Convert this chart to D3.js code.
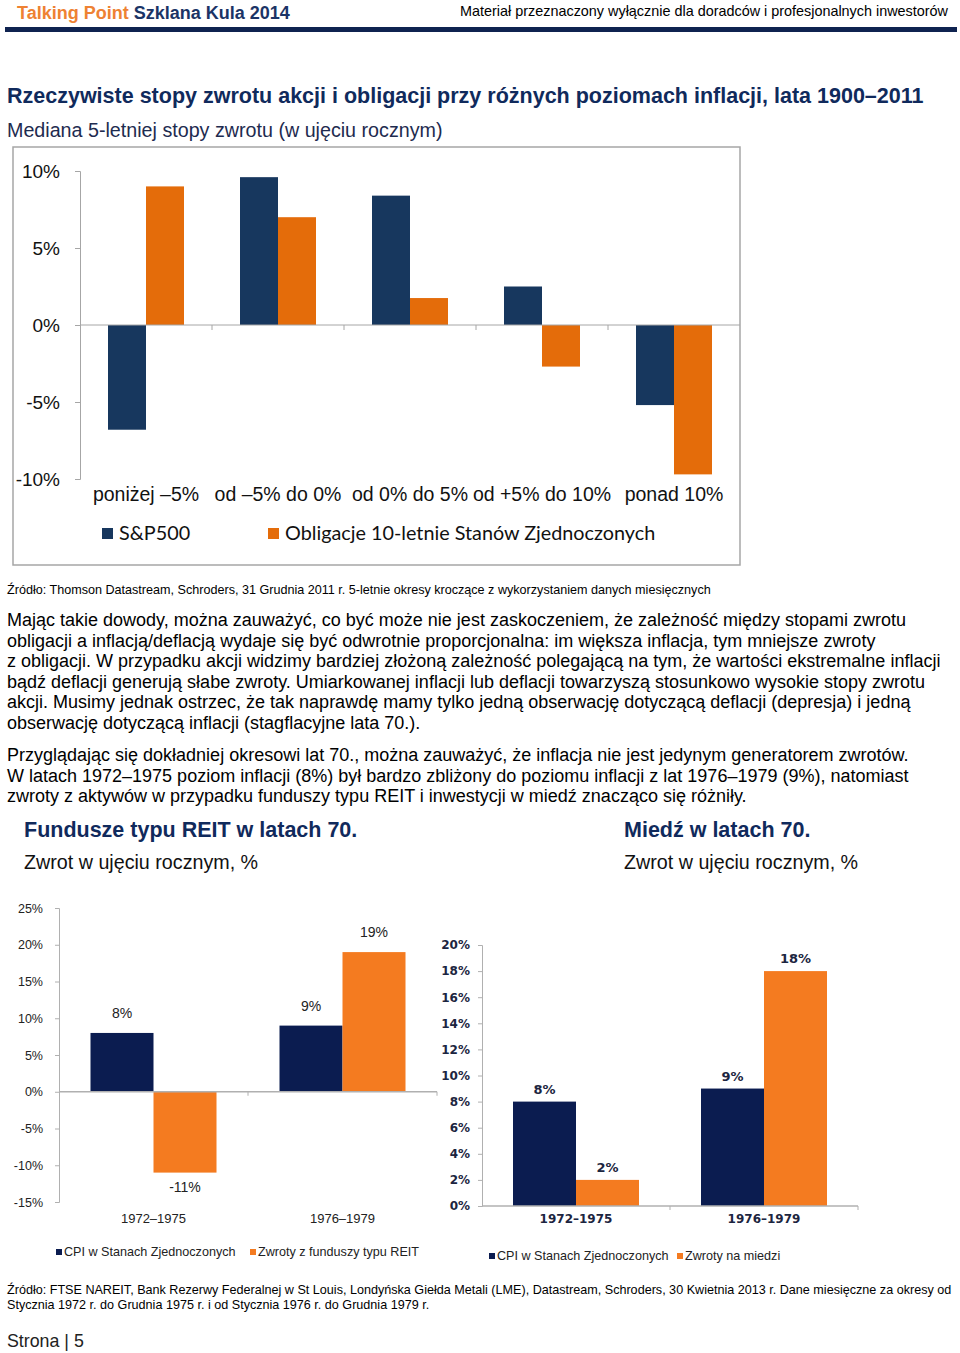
<!DOCTYPE html>
<html><head><meta charset="utf-8">
<script src="https://cdn.jsdelivr.net/npm/d3@7"></script>
<style>body{margin:0;background:#fff}svg{display:block}text{font-family:"Liberation Sans",Arial,sans-serif}</style>
</head><body>
<script>
// ---- data ----
const topCategories = ["poniżej –5%", "od –5% do 0%", "od 0% do 5%", "od +5% do 10%", "ponad 10%"];
const topSeries = ["S&P500", "Obligacje 10-letnie Stanów Zjednoczonych"];
const spValues = [-6.8, 9.6, 8.4, 2.5, -5.2];
const bondValues = [9.0, 7.0, 1.75, -2.7, -9.7];
const topTicks = [-10, -5, 0, 5, 10];

const periods = ["1972–1975", "1976–1979"];
const reitSeries = ["CPI w Stanach Zjednoczonych", "Zwroty z funduszy typu REIT"];
const reitCpi = [8, 9];
const reitReturns = [-11, 19];
const reitTicks = [-15, -10, -5, 0, 5, 10, 15, 20, 25];

const copperSeries = ["CPI w Stanach Zjednoczonych", "Zwroty na miedzi"];
const copperCpi = [8, 9];
const copperReturns = [2, 18];
const copperTicks = [0, 2, 4, 6, 8, 10, 12, 14, 16, 18, 20];

const para1 = [
 "Mając takie dowody, można zauważyć, co być może nie jest zaskoczeniem, że zależność między stopami zwrotu",
 "obligacji a inflacją/deflacją wydaje się być odwrotnie proporcjonalna: im większa inflacja, tym mniejsze zwroty",
 "z obligacji. W przypadku akcji widzimy bardziej złożoną zależność polegającą na tym, że wartości ekstremalne inflacji",
 "bądź deflacji generują słabe zwroty. Umiarkowanej inflacji lub deflacji towarzyszą stosunkowo wysokie stopy zwrotu",
 "akcji. Musimy jednak ostrzec, że tak naprawdę mamy tylko jedną obserwację dotyczącą deflacji (depresja) i jedną",
 "obserwację dotyczącą inflacji (stagflacyjne lata 70.)."
];
const para2 = [
 "Przyglądając się dokładniej okresowi lat 70., można zauważyć, że inflacja nie jest jedynym generatorem zwrotów.",
 "W latach 1972–1975 poziom inflacji (8%) był bardzo zbliżony do poziomu inflacji z lat 1976–1979 (9%), natomiast",
 "zwroty z aktywów w przypadku funduszy typu REIT i inwestycji w miedź znacząco się różniły."
];

// ---- page ----
const W = 960, H = 1353;
const svg = d3.select("body").append("svg").attr("width", W).attr("height", H);
const NAVY_T = "#17375e", ORANGE_T = "#e46c0a";
const NAVY_B = "#0b1c50", ORANGE_B = "#f47b20";
const TITLE = "#102a5c";

function txt(x, y, s, o = {}) {
  const t = svg.append("text").attr("x", x).attr("y", y).text(s)
    .attr("font-size", o.size || 16).attr("fill", o.fill || "#000")
    .attr("text-anchor", o.anchor || "start");
  if (o.weight) t.attr("font-weight", o.weight);
  if (o.family) t.style("font-family", o.family);
  return t;
}

// header
const hdr = svg.append("text").attr("x", 17).attr("y", 19).attr("font-size", 18).attr("font-weight", "bold")
  .style("font-family", '"Liberation Sans Narrow","Liberation Sans",Arial,sans-serif');
hdr.append("tspan").attr("fill", "#ee8233").text("Talking Point ");
hdr.append("tspan").attr("fill", "#1b3466").text("Szklana Kula 2014");
txt(948, 16, "Materiał przeznaczony wyłącznie dla doradców i profesjonalnych inwestorów",
  {size: 14.4, anchor: "end", family: '"Liberation Sans Narrow","Liberation Sans",Arial,sans-serif'});
svg.append("rect").attr("x", 5).attr("y", 27).attr("width", 952).attr("height", 5).attr("fill", "#0f2350");

// titles
txt(7, 103, "Rzeczywiste stopy zwrotu akcji i obligacji przy różnych poziomach inflacji, lata 1900–2011",
  {size: 21.5, weight: "bold", fill: TITLE});
txt(7, 137, "Mediana 5-letniej stopy zwrotu (w ujęciu rocznym)", {size: 19.7, fill: "#1e2b4f"});

// ---- top chart ----
svg.append("rect").attr("x", 13).attr("y", 147).attr("width", 727).attr("height", 418)
  .attr("fill", "none").attr("stroke", "#a6a6a6").attr("stroke-width", 1.5);

const yT = d3.scaleLinear().domain([-10, 10]).range([479, 171]);
const xT = d3.scaleBand().domain(topCategories).range([80, 740]);
const xT1 = d3.scaleBand().domain(topSeries).range([28, 104]);

const gTop = svg.append("g");
const axT = gTop.append("g").attr("transform", "translate(80,0)")
  .call(d3.axisLeft(yT).tickValues(topTicks).tickSize(5).tickPadding(15).tickFormat(d => d + "%"));
axT.select(".domain").attr("stroke", "#a6a6a6");
axT.selectAll(".tick line").attr("stroke", "#a6a6a6");
axT.selectAll(".tick text").attr("font-size", 19).attr("fill", "#111").style("font-family", '"Liberation Sans",Arial,sans-serif');

const topData = topCategories.map((c, i) => ({c, vals: [spValues[i], bondValues[i]]}));
const colorsT = [NAVY_T, ORANGE_T];
gTop.selectAll("g.cat").data(topData).join("g").attr("class", "cat")
  .attr("transform", d => `translate(${xT(d.c)},0)`)
  .selectAll("rect").data(d => d.vals.map((v, j) => ({v, s: topSeries[j], j}))).join("rect")
  .attr("x", d => xT1(d.s)).attr("width", xT1.bandwidth())
  .attr("y", d => yT(Math.max(0, d.v))).attr("height", d => Math.abs(yT(d.v) - yT(0)))
  .attr("fill", d => colorsT[d.j]);

// zero line + category ticks
gTop.append("line").attr("x1", 80).attr("x2", 740).attr("y1", yT(0)).attr("y2", yT(0)).attr("stroke", "#a6a6a6");
const bounds = topCategories.map(c => xT(c) + xT.bandwidth()).slice(0, -1);
gTop.selectAll("line.ct").data(bounds).join("line").attr("class", "ct")
  .attr("x1", d => d).attr("x2", d => d).attr("y1", yT(0)).attr("y2", yT(0) + 5).attr("stroke", "#a6a6a6");

gTop.selectAll("text.cl").data(topCategories).join("text").attr("class", "cl")
  .attr("x", d => xT(d) + xT.bandwidth() / 2).attr("y", 501).attr("text-anchor", "middle")
  .attr("font-size", 19.5).attr("fill", "#111").text(d => d);

// top legend
const legT = [{x: 102, s: topSeries[0], c: NAVY_T}, {x: 268, s: topSeries[1], c: ORANGE_T}];
legT.forEach(l => {
  svg.append("rect").attr("x", l.x).attr("y", 528).attr("width", 11).attr("height", 11).attr("fill", l.c);
  txt(l.x + 17, 540, l.s, {size: 19.8, fill: "#111", family: 'Lato,"Open Sans",sans-serif'});
});

// source + paragraphs
txt(7, 594, "Źródło: Thomson Datastream, Schroders, 31 Grudnia 2011 r. 5-letnie okresy kroczące z wykorzystaniem danych miesięcznych", {size: 12.6});
para1.forEach((l, i) => txt(7, 626 + i * 20.6, l, {size: 18}));
para2.forEach((l, i) => txt(7, 761 + i * 20.6, l, {size: 18}));

// sub titles
txt(24, 837, "Fundusze typu REIT w latach 70.", {size: 21.5, weight: "bold", fill: TITLE});
txt(24, 869, "Zwrot w ujęciu rocznym, %", {size: 19.7, fill: "#111"});
txt(624, 837, "Miedź w latach 70.", {size: 21.5, weight: "bold", fill: TITLE});
txt(624, 869, "Zwrot w ujęciu rocznym, %", {size: 19.7, fill: "#111"});

// ---- grouped bar helper for bottom charts ----
function bottomChart(cfg) {
  const g = svg.append("g");
  const y = d3.scaleLinear().domain(cfg.domain).range(cfg.yRange);
  const x = d3.scaleBand().domain(periods).range(cfg.xRange);
  const off = (x.bandwidth() - 126) / 2;
  const x1 = d3.scaleBand().domain([0, 1]).range([off, off + 126]);
  const ax = g.append("g").attr("transform", `translate(${cfg.xRange[0]},0)`)
    .call(d3.axisLeft(y).tickValues(cfg.ticks).tickSize(4).tickPadding(cfg.pad).tickFormat(d => d + "%"));
  ax.select(".domain").attr("stroke", "#b0b0b0");
  ax.selectAll(".tick line").attr("stroke", "#b0b0b0");
  ax.selectAll(".tick text").attr("font-size", cfg.tickSize).attr("fill", cfg.tickFill)
    .attr("font-weight", cfg.bold ? "bold" : null).style("font-family", cfg.family);
  const data = periods.map((p, i) => ({p, vals: [cfg.a[i], cfg.b[i]]}));
  const cols = [NAVY_B, ORANGE_B];
  const groups = g.selectAll("g.grp").data(data).join("g").attr("class", "grp")
    .attr("transform", d => `translate(${x(d.p)},0)`);
  groups.selectAll("rect").data(d => d.vals.map((v, j) => ({v, j}))).join("rect")
    .attr("x", d => x1(d.j)).attr("width", x1.bandwidth())
    .attr("y", d => y(Math.max(0, d.v))).attr("height", d => Math.abs(y(d.v) - y(0)))
    .attr("fill", d => cols[d.j]);
  groups.selectAll("text").data(d => d.vals.map((v, j) => ({v, j}))).join("text")
    .attr("x", d => x1(d.j) + x1.bandwidth() / 2)
    .attr("y", d => d.v >= 0 ? y(d.v) - cfg.labGap : y(d.v) + 19)
    .attr("text-anchor", "middle").attr("font-size", cfg.labSize).attr("fill", cfg.labFill)
    .attr("font-weight", cfg.bold ? "bold" : null).style("font-family", cfg.family)
    .text(d => d.v + "%");
  g.append("line").attr("x1", cfg.xRange[0]).attr("x2", cfg.xRange[1]).attr("y1", y(0)).attr("y2", y(0))
    .attr("stroke", "#b0b0b0").attr("stroke-width", 1.5);
  g.selectAll("line.bt").data([x(periods[1]), cfg.xRange[1]]).join("line").attr("class", "bt")
    .attr("x1", d => d).attr("x2", d => d).attr("y1", y(0)).attr("y2", y(0) + 4).attr("stroke", "#b0b0b0");
  g.selectAll("text.pl").data(periods).join("text").attr("class", "pl")
    .attr("x", d => x(d) + x.bandwidth() / 2).attr("y", 1223).attr("text-anchor", "middle")
    .attr("font-size", cfg.catSize).attr("fill", cfg.tickFill).attr("font-weight", cfg.bold ? "bold" : null)
    .style("font-family", cfg.family).text(d => d);
  // legend
  cfg.legend.forEach((l, j) => {
    svg.append("rect").attr("x", l.x).attr("y", cfg.legY - 3).attr("width", 6).attr("height", 6).attr("fill", cols[j]);
    txt(l.x + 8, cfg.legY + 4, cfg.series[j], {size: 12.6, fill: "#222"});
  });
}

bottomChart({
  domain: [-15, 25], yRange: [1202, 908], xRange: [59, 437], ticks: reitTicks, pad: 12,
  a: reitCpi, b: reitReturns, tickSize: 12.5, tickFill: "#222", bold: false,
  family: '"Liberation Sans",Arial,sans-serif', labSize: 14, labFill: "#222", labGap: 15, catSize: 13,
  series: reitSeries, legend: [{x: 56}, {x: 250}], legY: 1252
});
bottomChart({
  domain: [0, 20], yRange: [1206, 945], xRange: [482, 858], ticks: copperTicks, pad: 8,
  a: copperCpi, b: copperReturns, tickSize: 12, tickFill: "#1c2540", bold: true,
  family: '"DejaVu Sans",Verdana,sans-serif', labSize: 13, labFill: "#1c2540", labGap: 8, catSize: 12,
  series: copperSeries, legend: [{x: 489}, {x: 677}], legY: 1256
});

// footer
txt(7, 1294, "Źródło: FTSE NAREIT, Bank Rezerwy Federalnej w St Louis, Londyńska Giełda Metali (LME), Datastream, Schroders, 30 Kwietnia 2013 r. Dane miesięczne za okresy od", {size: 12.6});
txt(7, 1309, "Stycznia 1972 r. do Grudnia 1975 r. i od Stycznia 1976 r. do Grudnia 1979 r.", {size: 12.6});
txt(7, 1347, "Strona | 5", {size: 17.8, fill: "#222"});
</script>
</body></html>
